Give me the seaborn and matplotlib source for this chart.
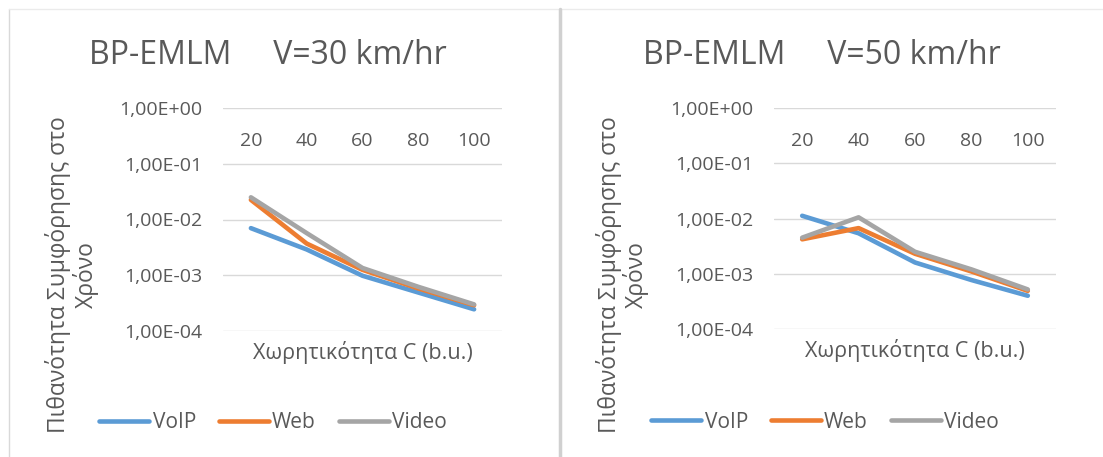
import matplotlib
matplotlib.use("Agg")
import matplotlib.pyplot as plt
import seaborn as sns
import pandas as pd
from matplotlib.lines import Line2D
from matplotlib.ticker import FixedLocator, FixedFormatter

# ---------------- data ----------------
capacity = [20, 40, 60, 80, 100]
series_names = ["VoIP", "Web", "Video"]

v30_voip = [0.0070, 0.0029, 0.00098, 0.00049, 0.000245]
v30_web = [0.0225, 0.0037, 0.00125, 0.00058, 0.00029]
v30_video = [0.025, 0.0057, 0.00135, 0.00062, 0.00030]

v50_voip = [0.0112, 0.0054, 0.0016, 0.00077, 0.00040]
v50_web = [0.0042, 0.0067, 0.0023, 0.0011, 0.00049]
v50_video = [0.0045, 0.0105, 0.0025, 0.0012, 0.00052]

titles = ["BP-EMLM     V=30 km/hr", "BP-EMLM     V=50 km/hr"]
ytick_values = [1e-4, 1e-3, 1e-2, 1e-1, 1e0]
ytick_labels = ["1,00E-04", "1,00E-03", "1,00E-02", "1,00E-01", "1,00E+00"]
xlabel = "Χωρητικότητα C (b.u.)"
ylabel = "Πιθανότητα Συμφόρησης στο\nΧρόνο"

colors = {"VoIP": "#5B9BD5", "Web": "#ED7D31", "Video": "#A5A5A5"}


def make_df(voip, web, video):
    rows = []
    for name, vals in zip(series_names, [voip, web, video]):
        for c, v in zip(capacity, vals):
            rows.append({"C": c, "P": v, "series": name})
    return pd.DataFrame(rows)


panels = [make_df(v30_voip, v30_web, v30_video), make_df(v50_voip, v50_web, v50_video)]

# ---------------- style ----------------
sns.set_theme(style="white")
plt.rcParams["font.family"] = ["Open Sans", "DejaVu Sans"]
text_color = "#595959"
grid_color = "#D9D9D9"

W, H = 1103, 457
fig = plt.figure(figsize=(W / 100, H / 100), dpi=100)
fig.patch.set_facecolor("white")


def fx(px):
    return px / W


def fy(py):
    return 1 - py / H


axes_px = [(223, 108, 502, 331), (774, 108, 1056, 329)]
title_pos = [(268, 55), (822, 55)]
legend_pos = [(273, 423), (825, 422)]
ylabel_x = [72, 622]

for i, df in enumerate(panels):
    x0, y0, x1, y1 = axes_px[i]
    ax = fig.add_axes([fx(x0), fy(y1), fx(x1 - x0), (y1 - y0) / H])
    sns.lineplot(data=df, x="C", y="P", hue="series", hue_order=series_names,
                 palette=colors, linewidth=3.3, ax=ax, legend=True,
                 solid_capstyle="round")
    ax.set_yscale("log")
    ax.set_ylim(1e-4, 1e0)
    ax.set_xlim(10, 110)
    ax.yaxis.set_major_locator(FixedLocator(ytick_values))
    ax.yaxis.set_major_formatter(FixedFormatter(ytick_labels))
    ax.yaxis.set_minor_locator(FixedLocator([]))
    ax.set_xticks(capacity)
    ax.set_xticklabels([str(c) for c in capacity])
    ax.xaxis.tick_top()
    ax.tick_params(axis="x", which="both", length=0, pad=-30, labelsize=14,
                   labelcolor=text_color, labeltop=True, labelbottom=False)
    ax.tick_params(axis="y", which="both", length=0, pad=15, labelsize=14,
                   labelcolor=text_color)
    for s in ax.spines.values():
        s.set_visible(False)
    ax.grid(axis="y", which="major", color=grid_color, linewidth=1.0)
    ax.grid(axis="x", visible=False)
    ax.set_axisbelow(True)
    ax.set_facecolor("none")

    ax.set_xlabel(xlabel, fontsize=15.5, color=text_color, labelpad=7)
    ax.xaxis.set_label_position("bottom")
    ax.set_ylabel(ylabel, fontsize=16.5, color=text_color, ha="center",
                  va="center", multialignment="center", linespacing=1.05)
    ax.yaxis.set_label_coords((ylabel_x[i] - x0) / (x1 - x0), (y1 - 275) / (y1 - y0))

    ax.get_legend().remove()
    new_handles = [Line2D([], [], color=colors[n], linewidth=3.3,
                          solid_capstyle="round") for n in series_names]
    lx, ly = legend_pos[i]
    ax.legend(new_handles, series_names, ncol=3, frameon=False,
              loc="center", bbox_to_anchor=(fx(lx), fy(ly)),
              bbox_transform=fig.transFigure, fontsize=15,
              handlelength=2.4, handletextpad=0.15, columnspacing=1.1,
              labelcolor=text_color)

    tx, ty = title_pos[i]
    fig.text(fx(tx), fy(ty), titles[i], ha="center", va="center",
             fontsize=23, color=text_color)

# panel frames
border = "#D9D9D9"
fig.add_artist(Line2D([fx(9), fx(9)], [0, fy(9)], color=border, linewidth=1.0))
fig.add_artist(Line2D([fx(9), 1], [fy(9), fy(9)], color="#EBEBEB", linewidth=1.0))
fig.add_artist(Line2D([fx(560), fx(560)], [0, fy(9)], color="#D0D0D0", linewidth=2.5))

fig.savefig("out.png", dpi=100, facecolor="white")
